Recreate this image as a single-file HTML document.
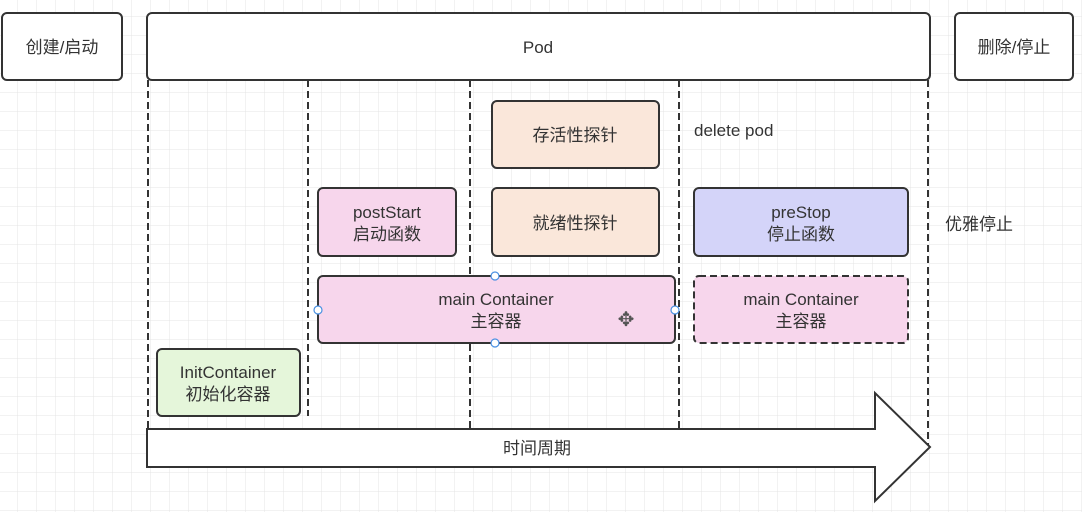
<!DOCTYPE html>
<html><head><meta charset="utf-8"><style>
html,body{margin:0;padding:0;background:#fff;}
svg{display:block;}
text{font-family:"Liberation Sans","Noto Sans CJK SC",sans-serif;fill:#333;font-size:17px;}
</style></head><body>
<svg width="1082" height="512" viewBox="0 0 1082 512" xmlns="http://www.w3.org/2000/svg">
<defs>
<pattern id="g" width="19" height="19" patternUnits="userSpaceOnUse" x="-1" y="-2">
<path d="M19 0V19M0 19H19" stroke="#e4e4e4" stroke-width="1" fill="none"/>
</pattern>
</defs>
<rect width="1082" height="512" fill="url(#g)"/>
<g stroke="#333" stroke-width="2" stroke-dasharray="7,4">
<line x1="148" y1="80" x2="148" y2="430"/>
<line x1="308" y1="80" x2="308" y2="416"/>
<line x1="470" y1="80" x2="470" y2="430"/>
<line x1="679" y1="80" x2="679" y2="430"/>
<line x1="928" y1="80" x2="928" y2="445"/>
</g>
<g stroke="#333" stroke-width="2">
<rect x="2" y="13" width="120" height="67" rx="5" fill="#fff"/>
<rect x="147" y="13" width="783" height="67" rx="5" fill="#fff"/>
<rect x="955" y="13" width="118" height="67" rx="5" fill="#fff"/>
<rect x="492" y="101" width="167" height="67" rx="5" fill="#fae7da"/>
<rect x="318" y="188" width="138" height="68" rx="5" fill="#f7d6ec"/>
<rect x="492" y="188" width="167" height="68" rx="5" fill="#fae7da"/>
<rect x="694" y="188" width="214" height="68" rx="5" fill="#d4d4f9"/>
<rect x="318" y="276" width="357" height="67" rx="5" fill="#f7d6ec"/>
<rect x="694" y="276" width="214" height="67" rx="5" fill="#f7d6ec" stroke-dasharray="7,4"/>
<rect x="157" y="349" width="143" height="67" rx="5" fill="#e5f6da"/>
<path d="M147 429H875V393L930 447L875 501V467H147Z" fill="#fff"/>
</g>
<g fill="#fff" stroke="#4a90e2" stroke-width="1.2">
<circle cx="495" cy="276" r="4"/><circle cx="495" cy="343" r="4"/>
<circle cx="318" cy="310" r="4"/><circle cx="675" cy="310" r="4"/>
</g>
<text x="626" y="326" text-anchor="middle" style="font-size:20px;fill:#555">✥</text>
<g text-anchor="middle">
<text x="62" y="53">创建/启动</text>
<text x="538" y="53">Pod</text>
<text x="1014" y="53">删除/停止</text>
<text x="575" y="141">存活性探针</text>
<text x="387" y="218">postStart</text>
<text x="387" y="240">启动函数</text>
<text x="575" y="229">就绪性探针</text>
<text x="801" y="218">preStop</text>
<text x="801" y="240">停止函数</text>
<text x="496" y="305">main Container</text>
<text x="496" y="327">主容器</text>
<text x="801" y="305">main Container</text>
<text x="801" y="327">主容器</text>
<text x="228" y="378">InitContainer</text>
<text x="228" y="400">初始化容器</text>
<text x="537" y="454">时间周期</text>
</g>
<text x="694" y="136">delete pod</text>
<text x="945" y="230">优雅停止</text>
</svg>
</body></html>
